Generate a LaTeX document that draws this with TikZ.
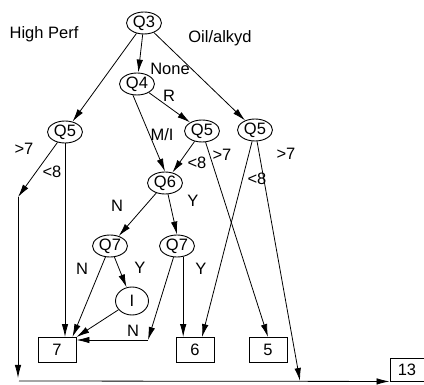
\documentclass[tikz,border=0pt]{standalone}
\usepackage{fontspec}
\setmainfont{Liberation Sans}
\usetikzlibrary{shapes.geometric,arrows.meta,calc}
\begin{document}
\begin{tikzpicture}[x=1pt,y=-1pt,
  every node/.style={font=\fontsize{16.5}{19}\selectfont},
  q/.style={ellipse,draw,line width=0.9pt,inner sep=0pt,minimum width=35pt,minimum height=22pt},
  b/.style={rectangle,draw,line width=0.9pt,inner sep=0pt,minimum width=38pt,minimum height=25pt},
  arr/.style={line width=0.8pt,-{Latex[length=13pt,width=6.5pt]}},
  lbl/.style={inner sep=0pt}]
\useasboundingbox (0,0) rectangle (424,385);
% nodes
\node[q] (q3) at (144,23) {Q3};
\node[q] (q4) at (137,84) {Q4};
\node[q] (q5l) at (65,132) {Q5};
\node[q] (q5m) at (202,131) {Q5};
\node[q] (q5r) at (255,130) {Q5};
\node[q] (q6) at (165,183) {Q6};
\node[q] (q7l) at (110,246) {Q7};
\node[q] (q7r) at (177,246) {Q7};
\node[q,minimum width=33pt,minimum height=28pt] (i) at (132,301) {I};
\node[b] (b7) at (57,350) {7};
\node[b] (b6) at (195,350) {6};
\node[b] (b5) at (268,350) {5};
\node[b,minimum width=34pt,minimum height=23pt] (b13) at (407,369.5) {13};
% free points
\coordinate (c1) at (18,197);
\coordinate (c2) at (18,378);
\coordinate (c3) at (19,381);
\coordinate (c4) at (300,381);
\coordinate (c5) at (148,340);
% edges
\draw[arr] (q3) -- (q5l);
\draw[arr] (q3) -- (q4);
\draw[arr] (q3) -- (q5r);
\draw[arr] (q4) -- (q5m);
\draw[arr] (q4.250) -- (q6.north);
\draw[arr] (q5m) -- (q6);
\draw[arr] (q5m) -- (b5.north);
\draw[arr] (q5r) -- ($(b6.north)+(7,0)$);
\draw[arr] (q5r) -- (c4);
\draw[arr] (q5l) -- (c1);
\draw[arr] (c1) -- (c2);
\draw[arr] (c3) -- (b13.south west);
\draw[arr] (q5l.south) -- (q5l.south |- b7.north);
\draw[arr] (q6) -- (q7l);
\draw[arr] (q6.-75) -- (q7r.north);
\draw[arr] (q7l) -- ($(b7.north east)+(-4,0)$);
\draw[arr] (q7l) -- (i);
\draw[arr] (i) -- (b7.north east);
\draw[arr] (q7r) -- (c5);
\draw[arr] (c5) -- (c5 -| b7.east);
\draw[arr] (q7r.-60) -- (q7r.-60 |- b6.north);
% labels
\node[lbl] (t1) at (44,34) {High Perf};
\node[lbl] (t2) at (220,38) {Oil/alkyd};
\node[lbl] (t3) at (170,69) {None};
\node[lbl] (t4) at (169,96) {R};
\node[lbl] (t5) at (162,135) {M/I};
\node[lbl] (t6) at (197,163) {<8};
\node[lbl] (t7) at (222,155) {>7};
\node[lbl] (t8) at (257,179) {<8};
\node[lbl] (t9) at (286,154) {>7};
\node[lbl] (t10) at (24,149) {>7};
\node[lbl] (t11) at (52,172) {<8};
\node[lbl] (t12) at (117,206) {N};
\node[lbl] (t13) at (193,201) {Y};
\node[lbl] (t14) at (82,269) {N};
\node[lbl] (t15) at (140,268) {Y};
\node[lbl] (t16) at (133,331) {N};
\node[lbl] (t17) at (201,269) {Y};
\end{tikzpicture}
\end{document}
